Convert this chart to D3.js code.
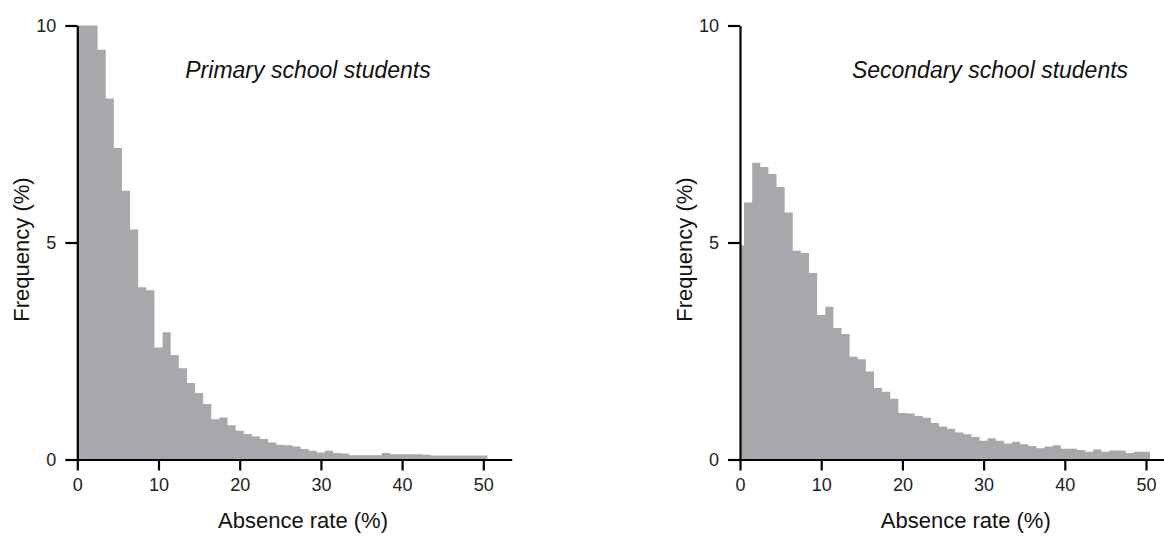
<!DOCTYPE html>
<html>
<head>
<meta charset="utf-8">
<script src="https://cdn.jsdelivr.net/npm/d3@7"></script>
<style>
  body { margin: 0; background: #fff; }
  svg text { font-family: "Helvetica Neue", Helvetica, "Liberation Sans", Arial, sans-serif; }
</style>
</head>
<body>
<svg id="chart" width="1164" height="536"></svg>
<script>
// absence-rate bins, centred on whole percentages (first bin starts at 0)
const binCenters = d3.range(0, 51)
const xTicks = [0, 10, 20, 30, 40, 50]
const yTicks = [0, 5, 10]

// frequency (%) per bin (first bins clipped at 10)
const primary = [12.4, 11.8, 10.3, 9.44, 8.32, 7.18, 6.19, 5.30, 3.97, 3.90,
    2.58, 2.93, 2.41, 2.10, 1.76, 1.53, 1.28, 0.93, 0.97, 0.79,
    0.66, 0.59, 0.53, 0.47, 0.39, 0.34, 0.33, 0.30, 0.24, 0.20,
    0.16, 0.20, 0.15, 0.14, 0.10, 0.10, 0.10, 0.10, 0.15, 0.12,
    0.12, 0.12, 0.12, 0.11, 0.09, 0.09, 0.09, 0.09, 0.09, 0.09, 0.09]

const secondary = [4.93, 5.92, 6.84, 6.74, 6.58, 6.28, 5.69, 4.81, 4.76, 4.30,
    3.33, 3.52, 3.03, 2.89, 2.37, 2.31, 2.03, 1.65, 1.56, 1.40,
    1.07, 1.06, 1.00, 0.96, 0.84, 0.76, 0.71, 0.62, 0.58, 0.52,
    0.43, 0.49, 0.43, 0.37, 0.41, 0.35, 0.31, 0.26, 0.30, 0.33,
    0.25, 0.25, 0.22, 0.18, 0.23, 0.18, 0.21, 0.21, 0.15, 0.18, 0.18]

const svg = d3.select('#chart')
const pxPerUnit = 8.12

const drawPanel = (opts) =>
{
    const x = d3.scaleLinear()
        .domain([0, opts.xMax])
        .range([opts.left, opts.left + opts.xMax * pxPerUnit])
    const y = d3.scaleLinear()
        .domain([0, 10])
        .range([459.5, 25.5])
        .clamp(true)

    const g = svg.append('g')

    // histogram as one stepped outline so the bars have no seams
    let pts = []
    binCenters.forEach((c, i) =>
    {
        const x0 = Math.max(0, c - 0.5)
        const x1 = c + 0.5
        pts.push([x0, opts.values[i]])
        pts.push([x1, opts.values[i]])
    })
    const area = d3.area()
        .x(d => x(d[0]))
        .y0(y(0))
        .y1(d => y(d[1]))

    g.append('path')
        .attr('d', area(pts))
        .attr('fill', '#a7a8ab')

    g.append('g')
        .attr('transform', `translate(0,${y(0)})`)
        .call(d3.axisBottom(x).tickValues(xTicks).tickSize(11).tickSizeOuter(0).tickPadding(8))

    g.append('g')
        .attr('transform', `translate(${x(0)},0)`)
        .call(d3.axisLeft(y).tickValues(yTicks).tickSize(12).tickSizeOuter(0).tickPadding(9))

    g.selectAll('.domain, .tick line')
        .attr('stroke', '#000')
        .attr('stroke-width', 2.2)
    g.selectAll('.tick text')
        .attr('font-size', 18)
        .attr('font-weight', 300)
        .attr('fill', '#222')

    g.append('text')
        .attr('x', opts.titleX)
        .attr('y', 78)
        .attr('text-anchor', 'middle')
        .attr('font-size', 23)
        .attr('font-style', 'italic')
        .attr('fill', '#111')
        .text(opts.title)

    g.append('text')
        .attr('x', x(27.8))
        .attr('y', 528)
        .attr('text-anchor', 'middle')
        .attr('font-size', 22)
        .attr('fill', '#111')
        .text('Absence rate (%)')

    g.append('text')
        .attr('transform', `translate(${opts.left - 48},${y(5) + 7}) rotate(-90)`)
        .attr('text-anchor', 'middle')
        .attr('font-size', 22)
        .attr('fill', '#111')
        .text('Frequency (%)')
}

drawPanel({ left: 77.3, xMax: 53.5, values: primary, title: 'Primary school students', titleX: 308 })
drawPanel({ left: 740, xMax: 52.3, values: secondary, title: 'Secondary school students', titleX: 990 })
</script>
</body>
</html>
